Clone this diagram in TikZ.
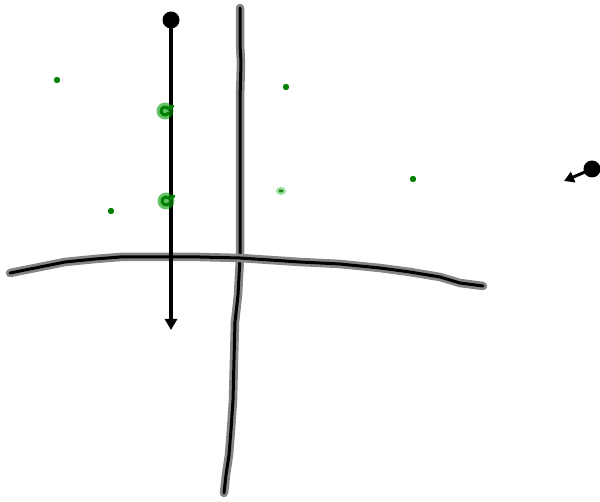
\documentclass[tikz,border=0pt]{standalone}
\usetikzlibrary{arrows.meta}
\begin{document}
\begin{tikzpicture}[x=1pt,y=-1pt,
  halo/.style={line width=8.5pt,draw=black!48,line cap=round,line join=round},
  core/.style={line width=3pt,draw=black,line cap=round,line join=round},
  gdot/.style={fill=green!50!black,draw=none},
  arr/.style={line width=4pt,-{Triangle[length=11pt,width=12pt]}}]
\useasboundingbox (0,0) rectangle (600,502);
% vertical hand line
\def\vpath{(240,8) -- (240,45) -- (241,62) -- (240,100) -- (240,200) -- (240,258) -- (238,295) -- (235,322) -- (234,360) -- (233,400) -- (231,430) -- (229,455) -- (226,475) -- (224,493)}
\draw[halo] \vpath; \draw[core] \vpath;
% horizontal hand line
\def\hpath{(10,273) -- (40,267) -- (65,262) -- (95,259) -- (120,257) -- (160,257) -- (200,257) -- (240,258) -- (270,260) -- (300,262) -- (340,264) -- (380,268) -- (410,272) -- (440,277) -- (460,283) -- (483,286)}
\draw[halo] \hpath; \draw[core] \hpath;
% black arrow with dot
\coordinate (top) at (171,20);
\coordinate (bot) at (171,330);
\fill (top) circle (8.5);
\draw[arr] (top) -- (bot);
% right arrow
\coordinate (rs) at (592,169);
\coordinate (re) at (564,181);
\fill (rs) circle (8.5);
\draw[line width=3pt,-{Triangle[length=10pt,width=11pt]}] (rs) -- (re);
% green dots
\foreach \p in {(57,80),(286,87),(413,179),(111,211)} \fill[gdot] \p circle (3.2);
% green spirals
\foreach \cx/\cy in {165/111,166/201}{
  \fill[green!60!black,opacity=0.6] (\cx,\cy) circle (8.5);
  \draw[green!50!black,line width=3pt,line cap=round]
    (\cx+3.5,\cy+2) arc[start angle=30,end angle=330,radius=4]
    -- (\cx+8,\cy-5);
}
% small ellipse
\fill[green!70!black,opacity=0.4] (281,191) ellipse (5 and 4);
\fill[green!40!black,opacity=0.75] (281,191) ellipse (2.5 and 1.5);
\end{tikzpicture}
\end{document}
